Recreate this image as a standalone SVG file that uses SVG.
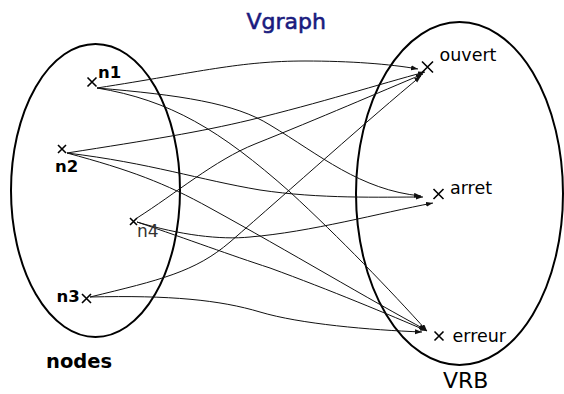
<svg xmlns="http://www.w3.org/2000/svg" width="564" height="394" viewBox="0 0 564 394">
  <style>
    .set { fill: none; stroke: #000; stroke-width: 2; }
    .cross { stroke: #000; stroke-width: 1.6; fill: none; }
    .edge { fill: none; stroke: #111; stroke-width: 1; marker-end: url(#tip); }
    .lbl { font-family: "DejaVu Sans", "Liberation Sans", sans-serif; fill: #000; }
    .node { font-size: 16.5px; font-weight: bold; }
    .val { font-size: 17.5px; }
  </style>
  <defs>
    <marker id="tip" markerUnits="userSpaceOnUse" markerWidth="8" markerHeight="6" refX="7" refY="2.5" orient="auto">
      <path d="M0,0 L7,2.5 L0,5 z" fill="#111"/>
    </marker>
  </defs>
  <rect width="564" height="394" fill="#fff"/>

  <!-- title -->
  <text class="lbl" x="246.5" y="29" font-size="22" style="fill:#1a1a7e;stroke:#1a1a7e;stroke-width:0.6">Vgraph</text>

  <!-- the two sets -->
  <g id="set-nodes">
    <ellipse class="set" cx="95.5" cy="190.5" rx="84.5" ry="146.5"/>
    <text class="lbl" x="46" y="368" font-size="19.5" font-weight="bold">nodes</text>
  </g>
  <g id="set-vrb">
    <ellipse class="set" cx="459.5" cy="193.5" rx="103.5" ry="171.5"/>
    <text class="lbl" x="443" y="388" font-size="22">VRB</text>
  </g>

  <!-- connectors -->
  <g id="connectors">
    <path class="edge" d="M97,88 C200,72 240,61 305,61 C350,61 390,64 418,69"/>
    <path class="edge" d="M97,88 C180,95 235,103 270,125 C320,155 360,190 421,196"/>
    <path class="edge" d="M97,88 C170,100 220,130 290,192 C340,238 390,290 427,331"/>
    <path class="edge" d="M67,153 C150,140 200,132 250,120 C320,103 380,84 425,72"/>
    <path class="edge" d="M67,153 C150,163 200,180 260,190 C320,199 380,197 423,197"/>
    <path class="edge" d="M67,153 C130,170 165,183 210,208 C290,252 370,300 426,330"/>
    <path class="edge" d="M137,218 C175,194 215,160 255,144 C320,118 380,92 423,74"/>
    <path class="edge" d="M137,222 C180,235 220,240 250,237 C310,232 380,213 433,203"/>
    <path class="edge" d="M137,222 C190,240 230,255 270,268 C330,290 390,315 427,331"/>
    <path class="edge" d="M90,297 C160,280 195,272 230,242 C290,190 370,118 421,76"/>
    <path class="edge" d="M90,297 C170,295 220,300 260,312 C300,324 370,330 422,332"/>
  </g>

  <!-- elements of nodes -->
  <g id="n1">
    <path class="cross" d="M87.5,77.5 L96.5,86.5 M96.5,77.5 L87.5,86.5"/>
    <text class="lbl node" x="98" y="78">n1</text>
  </g>
  <g id="n2">
    <path class="cross" d="M58,145 L66,153 M66,145 L58,153"/>
    <text class="lbl node" x="55" y="172">n2</text>
  </g>
  <g id="n4">
    <path class="cross" d="M130,218 L137,225 M137,218 L130,225"/>
    <text class="lbl" x="137" y="236.5" font-size="17" style="fill:#333">n4</text>
  </g>
  <g id="n3">
    <path class="cross" d="M82,294 L91,303 M91,294 L82,303"/>
    <text class="lbl node" x="56.5" y="301.5">n3</text>
  </g>

  <!-- elements of VRB -->
  <g id="ouvert">
    <path class="cross" d="M422,61.5 L433,72.5 M433,61.5 L422,72.5"/>
    <text class="lbl val" x="439.5" y="61">ouvert</text>
  </g>
  <g id="arret">
    <path class="cross" d="M433.5,189 L443.5,199 M443.5,189 L433.5,199"/>
    <text class="lbl val" x="450" y="194">arret</text>
  </g>
  <g id="erreur">
    <path class="cross" d="M434.5,331.5 L443.5,340.5 M443.5,331.5 L434.5,340.5"/>
    <text class="lbl val" x="452.5" y="341.5">erreur</text>
  </g>
</svg>
